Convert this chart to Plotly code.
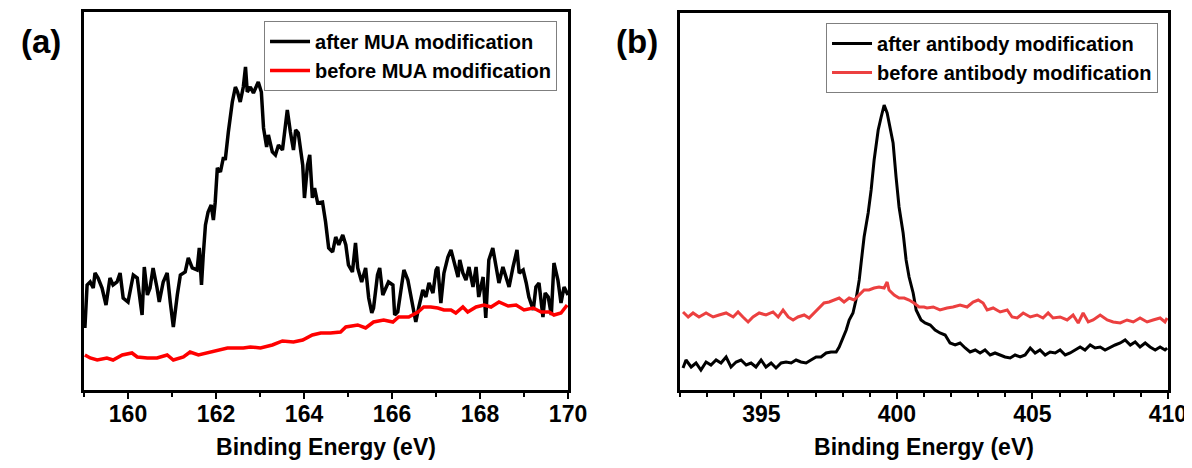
import plotly.graph_objects as go

# ---------------- Panel (a): S 2p region ----------------
a_after_x = [159.02, 159.07, 159.14, 159.21, 159.25, 159.32, 159.41, 159.50, 159.59, 159.66, 159.75, 159.82, 159.89, 160.00,
             160.12, 160.21, 160.28, 160.32, 160.37, 160.44, 160.50, 160.57, 160.66, 160.71, 160.80, 160.89, 160.96, 161.03,
             161.12, 161.19, 161.30, 161.37, 161.46, 161.57, 161.62, 161.67, 161.71, 161.76, 161.82, 161.89, 161.94, 161.98,
             162.03, 162.10, 162.17, 162.21, 162.28, 162.37, 162.44, 162.49, 162.55, 162.62, 162.67, 162.71, 162.78, 162.85,
             162.96, 163.03, 163.08, 163.15, 163.19, 163.28, 163.35, 163.42, 163.51, 163.58, 163.62, 163.69, 163.76, 163.81,
             163.87, 163.97, 164.01, 164.08, 164.13, 164.19, 164.24, 164.31, 164.42, 164.49, 164.56, 164.65, 164.72, 164.79,
             164.88, 164.95, 165.01, 165.10, 165.17, 165.22, 165.31, 165.40, 165.47, 165.54, 165.58, 165.67, 165.72, 165.79,
             165.86, 165.92, 166.02, 166.06, 166.13, 166.20, 166.27, 166.36, 166.43, 166.49, 166.54, 166.61, 166.70, 166.77,
             166.84, 166.93, 167.00, 167.04, 167.11, 167.18, 167.27, 167.34, 167.41, 167.50, 167.54, 167.61, 167.68, 167.75,
             167.84, 167.91, 167.97, 168.07, 168.13, 168.20, 168.29, 168.36, 168.43, 168.52, 168.59, 168.66, 168.75, 168.84,
             168.89, 168.98, 169.05, 169.11, 169.21, 169.27, 169.34, 169.43, 169.48, 169.55, 169.62, 169.68, 169.77, 169.84,
             169.91, 170.00]
a_after_y = [62, 105, 108, 102, 117, 112, 102, 85, 112, 105, 108, 117, 92, 88,
             115, 112, 88, 75, 123, 95, 102, 122, 102, 88, 108, 117, 88, 63,
             95, 115, 118, 132, 122, 120, 142, 105, 135, 165, 178, 185, 170, 187,
             222, 218, 233, 230, 258, 288, 303, 298, 288, 303, 323, 298, 303, 297,
             308, 298, 262, 243, 255, 238, 235, 245, 240, 265, 280, 258, 240, 260,
             257, 225, 192, 225, 235, 192, 202, 187, 188, 168, 142, 138, 153, 145,
             155, 145, 125, 118, 147, 122, 108, 122, 92, 77, 82, 115, 122, 95,
             102, 108, 105, 75, 78, 102, 120, 110, 93, 80, 68, 83, 100, 93,
             107, 97, 120, 123, 87, 117, 133, 140, 127, 113, 130, 117, 110, 123,
             103, 123, 93, 113, 72, 130, 142, 123, 107, 123, 113, 103, 123, 140,
             117, 120, 107, 93, 80, 103, 107, 73, 97, 93, 75, 127, 110, 87,
             103, 95]

a_before_x = [159.02, 159.14, 159.30, 159.52, 159.66, 159.87, 160.09, 160.21, 160.44, 160.66, 160.89, 161.03, 161.26, 161.41,
              161.60, 161.80, 162.03, 162.26, 162.44, 162.62, 162.78, 163.01, 163.28, 163.51, 163.76, 163.97, 164.19, 164.38,
              164.60, 164.83, 164.95, 165.22, 165.40, 165.58, 165.81, 166.02, 166.15, 166.38, 166.59, 166.72, 166.88, 167.04,
              167.18, 167.34, 167.45, 167.61, 167.72, 167.91, 168.09, 168.25, 168.43, 168.64, 168.82, 169.00, 169.21, 169.39,
              169.57, 169.68, 169.84, 169.98]
a_before_y = [35, 32, 30, 32, 30, 35, 37, 33, 32, 32, 35, 30, 33, 38,
              35, 37, 40, 42, 42, 42, 43, 42, 45, 49, 48, 50, 55, 57,
              57, 58, 63, 65, 62, 68, 70, 68, 73, 73, 78, 83, 83, 82,
              80, 80, 77, 83, 78, 83, 85, 83, 88, 84, 85, 80, 82, 78,
              78, 75, 77, 85]

# ---------------- Panel (b): N 1s region ----------------
b_after_x = [392.11, 392.22, 392.41, 392.59, 392.77, 392.96, 393.14, 393.33, 393.51, 393.70, 393.88, 394.07, 394.25, 394.44,
             394.62, 394.80, 394.99, 395.17, 395.36, 395.54, 395.73, 395.91, 396.10, 396.28, 396.46, 396.65, 396.83, 397.02,
             397.20, 397.39, 397.57, 397.76, 397.87, 398.01, 398.13, 398.24, 398.38, 398.49, 398.61, 398.68, 398.79, 398.94,
             399.05, 399.16, 399.31, 399.42, 399.53, 399.64, 399.71, 399.86, 399.97, 400.08, 400.23, 400.34, 400.45, 400.60,
             400.71, 400.89, 401.04, 401.23, 401.41, 401.59, 401.78, 401.96, 402.15, 402.33, 402.52, 402.70, 402.89, 403.07,
             403.25, 403.44, 403.62, 403.81, 403.99, 404.18, 404.36, 404.55, 404.73, 404.92, 405.10, 405.28, 405.47, 405.65,
             405.84, 406.02, 406.21, 406.39, 406.58, 406.76, 406.94, 407.13, 407.31, 407.50, 407.68, 407.87, 408.05, 408.24,
             408.42, 408.61, 408.79, 408.97, 409.16, 409.34, 409.53, 409.71, 409.89, 409.97]
b_after_y = [22, 30, 23, 27, 20, 28, 25, 30, 27, 33, 23, 28, 30, 25,
             27, 23, 30, 23, 27, 22, 27, 28, 27, 30, 28, 27, 30, 33,
             33, 37, 38, 38, 43, 52, 60, 70, 77, 90, 110, 127, 153, 177,
             200, 230, 260, 273, 285, 277, 267, 247, 213, 183, 157, 130, 113, 97,
             80, 70, 67, 65, 60, 57, 55, 47, 45, 47, 42, 38, 40, 37,
             40, 35, 37, 35, 33, 32, 35, 33, 35, 42, 37, 40, 35, 38,
             37, 40, 35, 37, 40, 43, 40, 45, 42, 43, 40, 43, 45, 47,
             50, 45, 48, 43, 47, 43, 40, 43, 40, 42]

b_before_x = [392.11, 392.30, 392.48, 392.70, 392.96, 393.22, 393.44, 393.70, 393.96, 394.14, 394.32, 394.51, 394.69, 394.92,
              395.17, 395.43, 395.62, 395.80, 395.99, 396.17, 396.35, 396.58, 396.76, 396.94, 397.13, 397.31, 397.50, 397.68,
              397.87, 398.05, 398.24, 398.42, 398.61, 398.79, 398.97, 399.16, 399.34, 399.53, 399.64, 399.71, 399.90, 400.08,
              400.27, 400.45, 400.63, 400.82, 401.00, 401.11, 401.34, 401.59, 401.85, 402.07, 402.33, 402.59, 402.81, 403.00,
              403.18, 403.33, 403.55, 403.81, 404.07, 404.25, 404.44, 404.66, 404.92, 405.17, 405.39, 405.58, 405.76, 406.02,
              406.28, 406.50, 406.69, 406.87, 407.06, 407.24, 407.50, 407.76, 407.98, 408.24, 408.49, 408.72, 408.97, 409.23,
              409.45, 409.71, 409.89, 409.97]
b_before_y = [78, 73, 77, 73, 77, 73, 75, 77, 73, 78, 73, 68, 73, 77,
              75, 78, 73, 80, 73, 70, 73, 75, 72, 77, 82, 87, 88, 90,
              92, 88, 92, 90, 95, 100, 100, 102, 103, 102, 108, 100, 95, 92,
              92, 90, 87, 83, 83, 82, 83, 80, 82, 83, 85, 83, 88, 90,
              87, 80, 82, 78, 80, 73, 72, 77, 73, 75, 72, 77, 72, 73,
              70, 75, 67, 77, 68, 70, 75, 70, 68, 67, 70, 68, 72, 68,
              70, 72, 68, 72]

a_ticks = [160, 162, 164, 166, 168, 170]
b_ticks = [395, 400, 405, 410]

FONT = "Arial, Liberation Sans, sans-serif"

fig = go.Figure()
fig.add_trace(go.Scatter(x=a_after_x, y=a_after_y, mode="lines", name="after MUA modification",
                         line=dict(color="black", width=3.5), xaxis="x", yaxis="y", legend="legend"))
fig.add_trace(go.Scatter(x=a_before_x, y=a_before_y, mode="lines", name="before MUA modification",
                         line=dict(color="#ff0000", width=3.5), xaxis="x", yaxis="y", legend="legend"))
fig.add_trace(go.Scatter(x=b_after_x, y=b_after_y, mode="lines", name="after antibody modification",
                         line=dict(color="black", width=3), xaxis="x2", yaxis="y2", legend="legend2"))
fig.add_trace(go.Scatter(x=b_before_x, y=b_before_y, mode="lines", name="before antibody modification",
                         line=dict(color="#ec4040", width=3), xaxis="x2", yaxis="y2", legend="legend2"))

xcommon = dict(showline=True, linecolor="black", linewidth=3, mirror=True, showgrid=False, zeroline=False,
               automargin=False, ticklabeloverflow="allow",
               ticks="outside", ticklen=6, tickwidth=2, tickcolor="black", ticklabelstandoff=-5,
               tickfont=dict(family=FONT, size=23, color="black", weight="bold"),
               title=dict(text="Binding Energy (eV)", font=dict(family=FONT, size=23, color="black", weight="bold"),
                          standoff=16))
ycommon = dict(showline=True, linecolor="black", linewidth=3, mirror=True, showgrid=False, zeroline=False,
               automargin=False, ticks="", showticklabels=False)

legcommon = dict(bgcolor="white", bordercolor="#7f7f7f", borderwidth=1, xanchor="right", yanchor="top",
                 font=dict(family=FONT, size=20, color="black", weight="bold"), tracegroupgap=0,
                 itemwidth=40)

# page body has an 8px margin: figure is sized to fit inside the window
fig.update_layout(
    width=1184, height=452, paper_bgcolor="white", plot_bgcolor="white",
    margin=dict(l=0, r=0, t=0, b=0, autoexpand=False),
    xaxis=dict(domain=[0.0642, 0.4730], range=[159, 170], tickvals=a_ticks,
               minor=dict(ticks="outside", ticklen=4, tickwidth=2, tickcolor="black", dtick=1, tick0=159), **xcommon),
    yaxis=dict(domain=[0.1549, 0.9912], range=[0, 378], anchor="x", **ycommon),
    xaxis2=dict(domain=[0.5676, 0.9797], range=[392, 410], tickvals=b_ticks, anchor="y2",
                minor=dict(ticks="outside", ticklen=4, tickwidth=2, tickcolor="black", dtick=1, tick0=392), **xcommon),
    yaxis2=dict(domain=[0.1549, 0.9889], range=[0, 377], anchor="x2", **ycommon),
    legend=dict(x=0.4637, y=0.9712, **legcommon),
    legend2=dict(x=0.9713, y=0.9668, **legcommon),
    annotations=[
        dict(text="<b>(a)</b>", x=0.0093, y=0.971, xref="paper", yref="paper", xanchor="left", yanchor="top",
             showarrow=False, font=dict(family=FONT, size=33, color="black")),
        dict(text="<b>(b)</b>", x=0.5118, y=0.971, xref="paper", yref="paper", xanchor="left", yanchor="top",
             showarrow=False, font=dict(family=FONT, size=33, color="black")),
    ],
    showlegend=True,
)

fig.write_html("out.html")
